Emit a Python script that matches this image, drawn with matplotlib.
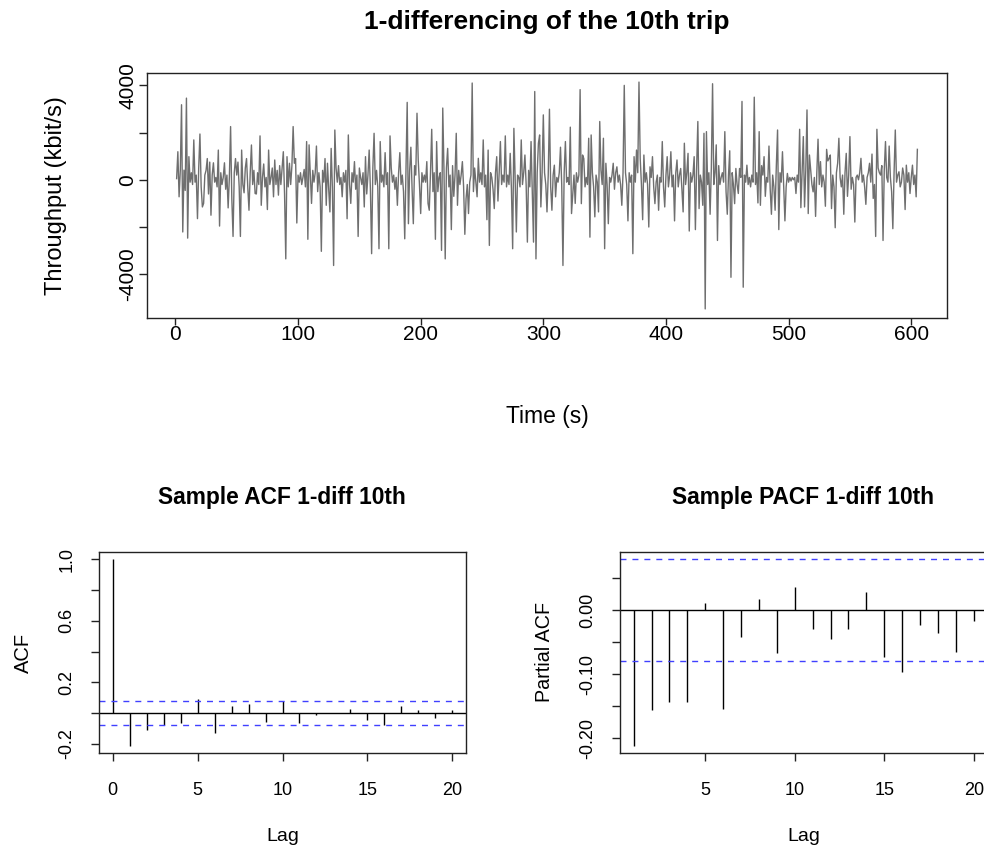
import numpy as np
import matplotlib
matplotlib.use("Agg")
import matplotlib.pyplot as plt

plt.rcParams['font.family'] = ['Liberation Sans', 'DejaVu Sans']

# ---- data: 1-differenced throughput (kbit/s), t = 1..605 ----
throughput = [
    50, 1190, -720, 400, 3180, -2210, 410, -450, 3460, -2470,
    980, -100, 300, -200, 1690, -100, 200, -1645, 500, 1940,
    -300, -1150, -1000, 200, 400, 900, -600, 750, -1500, 200,
    720, -100, 100, -300, 1260, -1960, 300, -200, 100, 720,
    -400, 200, -1190, 100, 2255, -800, -2400, 300, 900, 200,
    750, -300, -2400, 1260, -200, -550, 500, 900, -300, -1290,
    300, 1475, -200, 400, -580, -600, 300, -200, 1860, -1080,
    100, 670, -300, 100, -1260, 1260, -200, 100, 500, -720,
    840, -200, 400, -650, 600, -200, 500, 1190, -600, -3350,
    980, -300, 700, -200, 600, 2255, 700, 900, -1830, 200,
    -100, 300, -200, 100, 440, -300, 1620, -2520, 1480, 200,
    -1000, 400, -100, 300, 1430, -500, 300, -300, -3030, 400,
    -100, 900, -1080, 700, -400, -1360, 1330, -300, -3630, 2110,
    500, -100, 600, -200, 100, -720, 300, -100, 400, -1650,
    1900, -200, -1000, 300, -100, 770, -400, 200, -2400, 500,
    100, -200, 300, -1150, 980, -600, 200, 1260, -400, -3130,
    500, 1970, -200, 400, -300, -2920, 1620, -100, 200, -300,
    1150, -200, 300, -2920, 1860, 500, -100, 200, -400, 100,
    -1080, 300, 1150, -200, 200, -500, -2500, 500, 3280, -1860,
    400, 1380, -400, -1860, 600, 200, 2820, 840, -200, -1430,
    300, -100, 200, -100, 770, -1000, -1290, 300, 2140, -500,
    300, -2520, 1620, -500, 100, 300, -2990, 3040, 400, -3350,
    500, 1330, -300, 200, -2110, 600, -700, 200, 1970, -1080,
    400, -200, 200, 770, -300, -2310, -800, -200, -1430, -100,
    200, 4100, -500, 500, -100, -720, 910, -100, 300, -200,
    1690, -300, 200, -1690, 1260, -2780, 300, 100, -400, -1220,
    300, 980, -900, 300, 1620, -200, 200, -100, 1860, -300,
    200, -200, 1120, -400, -2920, 2180, 100, -2210, 200, 100,
    -300, 1690, -200, 300, 1050, -200, -2640, 400, -300, 1620,
    -600, -2640, 3740, -3350, 300, 1550, 1900, -1150, 300, 2750,
    300, -200, -1360, 200, 2990, -300, -1290, 200, 620, -720,
    100, -100, 300, 1380, -200, -3630, 300, 1620, -100, 100,
    -200, 2230, -1430, -600, 200, -1000, 300, -100, 200, 3820,
    -1010, 1050, 900, -300, 100, -200, 1760, -2430, 1900, 300,
    -300, -1570, 200, -100, -1360, 2470, 400, -200, 1760, -2920,
    700, -200, -1860, 100, -100, 200, 700, -400, 300, 550,
    -100, 200, -200, -1080, 300, 4000, 300, -200, -1740, 300,
    -100, 200, -3130, 980, -100, 1260, 300, 4140, 900, -200,
    -1690, 1050, -100, 300, -200, -2000, 550, 100, 980, -300,
    -1010, -100, 200, -1290, 100, -100, 1620, -300, -1150, 200,
    980, -300, 200, 1190, -300, 200, -1740, 300, 840, -300,
    200, 480, -400, -1360, 1550, -200, 300, 1120, -2170, 300,
    -100, 200, 980, -2110, 500, 2470, -1220, 200, -100, -1080,
    1970, -5470, 2040, -200, 300, -1460, 500, 4070, -200, 300,
    1480, -2570, 600, -200, 100, 300, -100, 2040, -500, -1460,
    200, 1230, -4130, 300, -200, -1010, 480, -200, -580, 480,
    100, 3320, -4550, 200, -100, 620, -200, 100, -300, 200,
    -100, 3500, -200, 300, -980, 2040, -1080, 600, 200, 980,
    -700, 100, -100, 1430, -400, -1460, 200, -300, -1290, 600,
    2110, -2110, 300, -100, 1190, -300, -1740, -300, 270, -100,
    100, -50, 100, 0, 100, -580, 200, -100, 2140, -1180,
    300, 1830, -1150, 400, 2960, -1430, 1050, 400, -200, -510,
    100, -1550, 300, 1720, -200, 770, -300, 200, -100, -1120,
    1290, 800, 900, 1050, -1220, 200, -300, -2030, 300, 700,
    1760, 100, -300, 200, -1460, 300, 1120, -700, 200, 1830,
    -400, 100, -200, -1790, 100, 200, 0, 300, 910, -100,
    200, -300, -1040, 100, 300, 700, -100, 1090, -790, -200,
    -2400, 2140, 500, 300, 200, 600, -2570, 400, 1620, 100,
    -100, 1430, 100, -500, -2070, 300, 2110, -100, 200, 340,
    -300, -100, 500, 200, -1260, 620, -100, 300, -580, 100,
    620, -200, 200, -720, 1290,
]
time_s = np.arange(1, len(throughput) + 1)

acf_lags = list(range(0, 21))
acf_vals = [1.0, -0.212, -0.109, -0.080, -0.067, 0.094, -0.130, 0.043, 0.057,
            -0.061, 0.080, -0.063, -0.015, 0.003, 0.028, -0.046, -0.080, 0.048,
            0.017, -0.035, 0.020]

pacf_lags = list(range(1, 21))
pacf_vals = [-0.2115, -0.1566, -0.1436, -0.1440, 0.0114, -0.1545, -0.0415,
             0.0180, -0.0674, 0.0373, -0.0295, -0.0446, -0.0285, 0.0280,
             -0.0730, -0.0959, -0.0223, -0.0347, -0.0658, -0.0160]

n_obs = 605
conf = 1.96 / np.sqrt(n_obs)

W, H = 984, 848
fig = plt.figure(figsize=(W / 100, H / 100), dpi=100)


def box(l, t, r, b):
    return [l / W, 1 - b / H, (r - l) / W, (b - t) / H]


def style(ax, fs):
    for s in ax.spines.values():
        s.set_linewidth(1.0)
        s.set_color('#222222')
    ax.tick_params(direction='out', length=6, width=1.0, color='#222222',
                   labelsize=fs, pad=5)
    for lab in ax.get_yticklabels():
        lab.set_rotation(90)
        lab.set_va('center')


def rpad(lo, hi):
    d = (hi - lo) * 0.04
    return lo - d, hi + d


BLUE = '#4040ff'

# ---- top: time series ----
ax1 = fig.add_axes(box(147, 73, 947, 318))
ax1.plot(time_s, throughput, color='#6f6f6f', lw=1.0)
ax1.set_xlim(*rpad(1, len(throughput)))
ax1.set_ylim(*rpad(min(throughput), max(throughput)))
ax1.set_xticks([0, 100, 200, 300, 400, 500, 600])
ax1.set_yticks([-4000, -2000, 0, 2000, 4000])
ax1.set_yticklabels(['-4000', '', '0', '', '4000'])
style(ax1, 15)
ax1.tick_params(axis='x', length=5, pad=0)
ax1.tick_params(axis='y', pad=1)
ax1.set_xlabel('Time (s)', fontsize=16.5, labelpad=44)
ax1.set_ylabel('Throughput (kbit/s)', fontsize=17, labelpad=37)
fig.text(547 / W, 1 - 22 / H, '1-differencing of the 10th trip',
         ha='center', va='center', fontsize=19, fontweight='bold')

# ---- bottom left: ACF ----
ax2 = fig.add_axes(box(99, 552, 466, 753))
ax2.vlines(acf_lags, 0, acf_vals, color='black', lw=1.0)
ax2.axhline(0, color='black', lw=1.0)
for c in (conf, -conf):
    ax2.axhline(c, color=BLUE, lw=1.0, linestyle=(0, (4.3, 4.3)))
ax2.set_xlim(*rpad(0, 20))
ax2.set_ylim(*rpad(min(min(acf_vals), -conf), max(max(acf_vals), conf)))
ax2.set_xticks([0, 5, 10, 15, 20])
ax2.set_yticks([-0.2, 0.0, 0.2, 0.4, 0.6, 0.8, 1.0])
ax2.set_yticklabels(['-0.2', '', '0.2', '', '0.6', '', '1.0'])
style(ax2, 13)
ax2.tick_params(axis='x', pad=15)
ax2.tick_params(axis='y', pad=11)
ax2.set_xlabel('Lag', fontsize=14, labelpad=21)
ax2.set_ylabel('ACF', fontsize=14.5, labelpad=18)
fig.text(282 / W, 1 - 497 / H, 'Sample ACF 1-diff 10th',
         ha='center', va='center', fontsize=16.4, fontweight='bold')

# ---- bottom right: PACF ----
ax3 = fig.add_axes(box(620, 552, 987.4, 753))
ax3.vlines(pacf_lags, 0, pacf_vals, color='black', lw=1.0)
ax3.axhline(0, color='black', lw=1.0)
for c in (conf, -conf):
    ax3.axhline(c, color=BLUE, lw=1.0, linestyle=(0, (4.3, 4.3)))
ax3.set_xlim(*rpad(1, 20))
ax3.set_ylim(*rpad(min(min(pacf_vals), -conf), max(max(pacf_vals), conf)))
ax3.set_xticks([5, 10, 15, 20])
ax3.set_yticks([-0.20, -0.15, -0.10, -0.05, 0.0, 0.05])
ax3.set_yticklabels(['-0.20', '', '-0.10', '', '0.00', ''])
style(ax3, 13)
ax3.tick_params(axis='x', pad=15)
ax3.tick_params(axis='y', pad=11)
ax3.set_xlabel('Lag', fontsize=14, labelpad=21)
ax3.set_ylabel('Partial ACF', fontsize=14.2, labelpad=18)
fig.text(803 / W, 1 - 497 / H, 'Sample PACF 1-diff 10th',
         ha='center', va='center', fontsize=16.4, fontweight='bold')

fig.savefig('out.png', dpi=100)
